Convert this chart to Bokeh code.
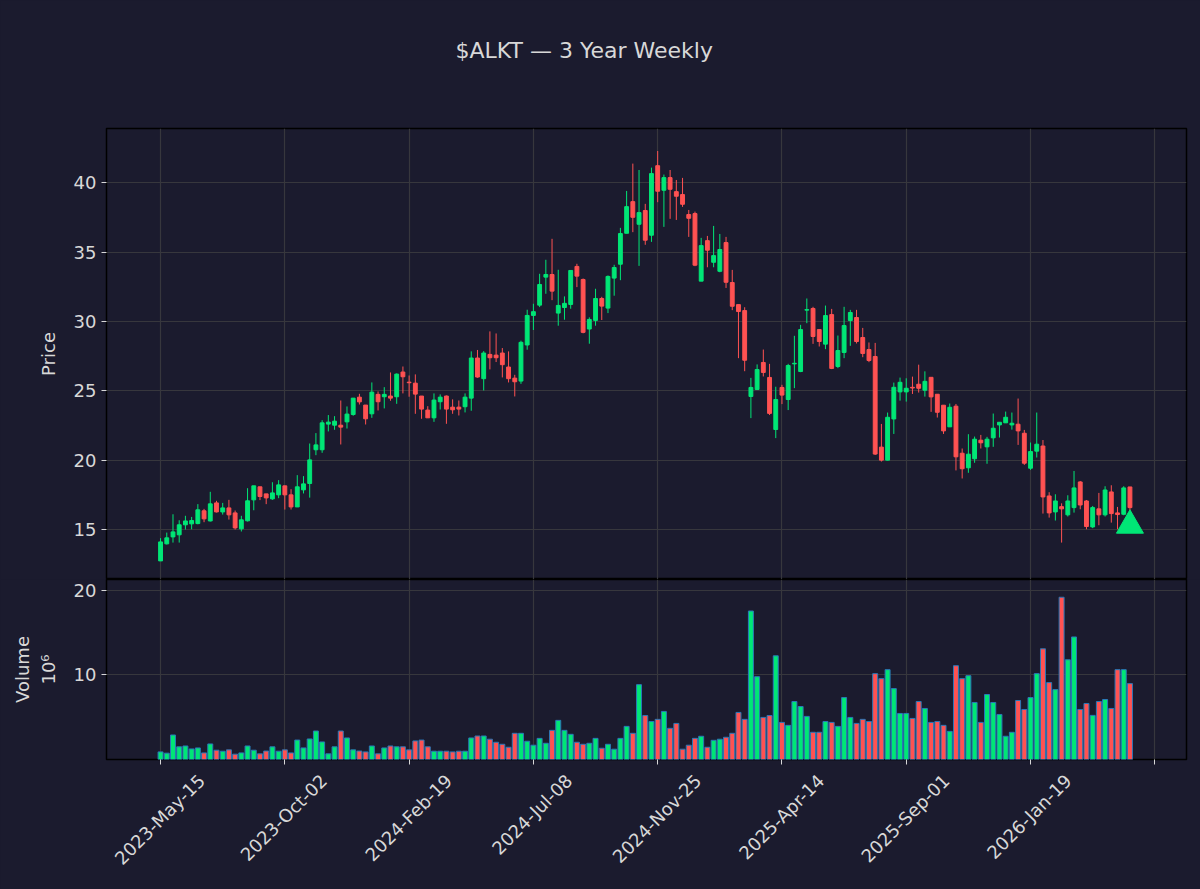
import pandas as pd
from bokeh.plotting import figure
from bokeh.layouts import column
from bokeh.models import ColumnDataSource, FixedTicker, Range1d, LinearAxis, Title
from bokeh.embed import file_html
from bokeh.resources import INLINE

# ---------------- data ----------------
start_date = "2023-05-15"
opens = [12.74, 13.97, 14.47, 14.62, 15.34, 15.41, 15.43, 16.35, 15.62, 16.92,
         16.27, 16.56, 16.20, 15.05, 15.63, 17.14, 18.08, 17.57, 17.21, 17.50,
         18.15, 17.50, 16.63, 17.86, 18.32, 20.75, 20.75, 22.60, 22.52, 22.52,
         22.76, 23.29, 24.54, 23.97, 23.34, 24.74, 24.57, 24.62, 24.57, 26.35,
         25.62, 25.55, 24.62, 23.61, 23.05, 24.21, 24.62, 23.82, 23.82, 23.85,
         24.47, 27.36, 25.87, 27.62, 27.57, 27.72, 26.71, 25.91, 25.70, 28.30,
         30.43, 31.17, 33.19, 33.38, 30.60, 31.00, 31.22, 33.96, 33.02, 29.45,
         30.07, 31.65, 30.96, 33.12, 34.12, 36.35, 38.63, 37.00, 37.99, 36.21,
         41.22, 39.45, 40.36, 39.35, 39.14, 37.70, 37.77, 32.90, 35.82, 34.26,
         33.61, 35.68, 32.80, 31.21, 30.78, 24.59, 25.09, 27.04, 25.96, 22.21,
         25.24, 24.37, 26.94, 26.39, 30.81, 30.93, 29.41, 28.36, 30.49, 26.75,
         27.76, 30.06, 30.28, 28.84, 27.97, 27.47, 20.94, 20.00, 22.97, 24.92,
         24.92, 25.25, 25.47, 25.04, 25.97, 24.75, 23.96, 22.40, 23.89, 20.50,
         19.45, 20.10, 21.44, 20.96, 21.61, 22.54, 22.69, 22.54, 22.59, 21.94,
         19.42, 20.65, 21.02, 17.42, 16.27, 16.65, 16.06, 16.58, 18.43, 17.06,
         15.19, 16.49, 16.06, 17.71, 16.20, 16.10, 18.07]
highs = [14.38, 14.78, 16.10, 15.67, 15.99, 15.91, 16.83, 16.49, 17.72, 17.07,
         16.92, 17.14, 16.37, 15.99, 17.98, 18.15, 18.08, 17.57, 18.41, 18.56,
         18.15, 17.91, 18.92, 18.85, 21.20, 21.95, 22.88, 23.25, 23.17, 24.30,
         23.87, 24.47, 24.78, 23.97, 25.60, 24.95, 25.26, 26.32, 26.25, 26.75,
         26.10, 26.18, 24.62, 23.89, 24.81, 24.74, 24.66, 24.38, 24.30, 24.81,
         27.84, 27.94, 27.86, 29.28, 29.13, 28.08, 27.84, 26.15, 28.61, 30.84,
         31.27, 33.43, 34.44, 35.95, 33.72, 31.80, 33.67, 34.15, 33.09, 30.29,
         32.35, 31.77, 33.31, 34.08, 36.74, 39.40, 41.37, 40.91, 38.47, 41.08,
         42.28, 40.58, 40.91, 40.19, 40.34, 38.03, 37.91, 36.02, 36.16, 36.88,
         36.30, 36.09, 33.71, 31.21, 31.02, 25.93, 26.90, 27.97, 26.94, 25.29,
         25.43, 26.94, 28.96, 29.75, 31.65, 31.05, 29.41, 31.14, 30.90, 28.98,
         31.05, 30.83, 30.83, 29.53, 28.48, 28.45, 22.61, 23.43, 25.59, 25.95,
         25.90, 26.02, 26.88, 26.40, 25.97, 24.75, 23.96, 24.08, 24.05, 20.84,
         21.87, 21.70, 21.82, 21.68, 23.36, 22.73, 23.50, 23.43, 24.44, 22.18,
         21.27, 23.43, 21.45, 17.69, 17.54, 16.89, 17.47, 19.22, 18.50, 17.13,
         16.70, 17.64, 18.12, 18.19, 16.63, 18.12, 18.07]
lows = [12.74, 13.92, 14.06, 14.06, 15.00, 15.02, 15.38, 15.53, 15.58, 16.23,
        16.08, 15.72, 15.00, 14.86, 15.58, 16.39, 17.12, 16.83, 17.14, 17.26,
        16.44, 16.44, 16.63, 17.60, 17.30, 20.36, 20.53, 22.07, 22.19, 21.13,
        22.28, 23.20, 24.01, 22.57, 23.05, 23.58, 23.73, 24.28, 24.06, 24.81,
        24.57, 23.34, 22.98, 23.05, 22.76, 23.65, 22.62, 23.34, 23.22, 23.44,
        23.56, 25.94, 25.02, 26.54, 27.07, 25.96, 25.60, 24.59, 25.50, 27.96,
        29.38, 31.03, 31.99, 31.53, 29.69, 30.12, 30.91, 32.47, 29.14, 28.39,
        29.69, 30.10, 30.60, 31.85, 32.97, 36.35, 36.43, 34.00, 35.52, 35.73,
        38.59, 36.81, 37.39, 37.31, 38.25, 36.09, 33.98, 32.90, 33.90, 33.90,
        33.54, 32.41, 30.81, 27.35, 26.41, 23.03, 25.09, 26.03, 23.25, 21.59,
        24.04, 23.61, 25.19, 26.34, 29.87, 28.38, 28.19, 28.00, 26.56, 26.63,
        27.35, 28.24, 28.41, 27.42, 27.06, 20.37, 19.90, 19.98, 21.89, 24.29,
        24.22, 24.77, 24.87, 24.58, 23.48, 23.07, 21.89, 22.40, 19.26, 18.68,
        19.09, 19.81, 20.84, 19.74, 20.96, 21.63, 22.69, 22.20, 21.10, 19.66,
        19.30, 20.19, 16.15, 15.86, 15.65, 14.06, 15.94, 16.22, 16.46, 15.02,
        15.10, 15.31, 15.94, 15.50, 15.02, 16.03, 16.10]
closes = [14.11, 14.40, 14.83, 15.34, 15.62, 15.65, 16.42, 15.77, 16.85, 16.27,
          16.56, 16.06, 15.12, 15.70, 17.07, 18.15, 17.38, 17.28, 17.64, 18.22,
          17.50, 16.63, 18.08, 18.29, 20.02, 21.10, 22.69, 22.74, 22.81, 22.38,
          23.32, 24.47, 24.20, 22.98, 24.90, 24.21, 24.74, 24.47, 26.20, 26.01,
          25.58, 24.76, 23.68, 23.05, 24.33, 24.54, 23.68, 23.63, 23.68, 24.54,
          27.36, 25.99, 27.72, 27.38, 27.38, 26.88, 25.87, 25.65, 28.49, 30.43,
          30.70, 32.66, 33.38, 32.18, 31.15, 31.30, 33.67, 33.26, 29.21, 30.14,
          31.65, 31.10, 33.24, 33.88, 36.33, 38.27, 37.50, 37.84, 35.85, 40.65,
          39.38, 40.36, 39.52, 39.02, 38.44, 37.43, 34.05, 35.46, 35.13, 34.74,
          35.18, 32.82, 31.09, 30.71, 27.20, 25.24, 26.53, 26.32, 23.37, 24.37,
          24.69, 26.82, 26.98, 29.41, 30.85, 28.91, 28.55, 30.42, 26.61, 27.90,
          29.70, 30.64, 28.55, 27.69, 27.18, 20.44, 20.00, 23.09, 25.25, 25.61,
          25.18, 25.20, 25.18, 25.68, 24.56, 23.45, 22.11, 23.81, 20.24, 19.38,
          20.43, 21.51, 21.25, 21.51, 22.30, 22.73, 23.09, 22.66, 22.11, 19.78,
          20.62, 21.15, 17.35, 16.20, 17.06, 16.49, 17.06, 18.00, 16.77, 15.22,
          16.58, 16.06, 17.85, 16.15, 16.08, 18.00, 16.58]
volumes_m = [0.90, 0.75, 2.90, 1.50, 1.60, 1.25, 1.37, 0.78, 1.84, 1.10,
             0.98, 1.14, 0.63, 0.78, 1.60, 1.10, 0.67, 1.00, 1.50, 0.98,
             1.14, 0.78, 2.30, 1.37, 2.43, 3.37, 2.08, 0.67, 1.50, 3.37,
             2.55, 1.14, 1.00, 0.90, 1.60, 0.67, 1.37, 1.60, 1.50, 1.50,
             1.14, 2.20, 2.30, 1.50, 0.98, 0.98, 0.98, 0.90, 0.98, 0.98,
             2.55, 2.78, 2.78, 2.40, 2.04, 1.80, 1.45, 3.10, 3.10, 2.16,
             1.69, 2.50, 1.92, 3.45, 4.63, 3.45, 2.98, 2.04, 1.80, 1.92,
             2.50, 1.33, 1.80, 1.22, 2.50, 3.92, 3.10, 8.86, 5.20, 4.50,
             4.75, 5.69, 3.69, 4.27, 1.22, 1.69, 2.50, 2.75, 1.45, 2.27,
             2.40, 2.63, 3.10, 5.57, 4.75, 17.57, 9.80, 4.98, 5.20, 12.27,
             4.39, 4.04, 6.86, 6.27, 5.10, 3.22, 3.22, 4.50, 4.39, 3.92,
             7.33, 4.98, 4.27, 4.75, 4.50, 10.16, 9.57, 10.63, 8.39, 5.45,
             5.45, 4.86, 6.86, 6.04, 4.39, 4.50, 4.04, 3.33, 11.10, 9.57,
             9.92, 6.75, 4.39, 7.69, 6.75, 5.33, 2.75, 3.22, 6.98, 5.92,
             7.33, 10.16, 13.10, 9.10, 8.27, 19.20, 11.80, 14.50, 5.92, 6.63,
             5.22, 6.86, 7.10, 6.04, 10.63, 10.63, 8.98]
signal_price = [15.3]          # green triangle marker on the last week
tick_weeks = [0, 20, 40, 60, 80, 100, 120, 140, 160]
tick_labels = ["2023-May-15", "2023-Oct-02", "2024-Feb-19", "2024-Jul-08",
               "2024-Nov-25", "2025-Apr-14", "2025-Sep-01", "2026-Jan-19", ""]
price_ticks = [15, 20, 25, 30, 35, 40]
volume_ticks = [10, 20]

# ---------------- styling ----------------
BG = "#1b1b2e"
GRID = "#37373d"
UP = "#00e676"
DOWN = "#ff5252"
EDGE = "#2a78b8"
TXT = "#d8d8d8"
FONT = "DejaVu Sans"
TICK_FS = 18
PX_PER_WEEK = 6.214

n = len(closes)
idx = list(range(n))
dates = pd.date_range(start_date, periods=n, freq="7D")
colors = [UP if c >= o else DOWN for o, c in zip(opens, closes)]
src = ColumnDataSource(dict(
    x=idx, date=dates, open=opens, high=highs, low=lows, close=closes,
    top=[max(o, c) for o, c in zip(opens, closes)],
    bottom=[min(o, c) for o, c in zip(opens, closes)],
    vol=volumes_m, color=colors))

x_range = Range1d(-8.7, 165.1)


def style(p, yticks):
    p.background_fill_color = BG
    p.border_fill_color = BG
    p.outline_line_color = "black"
    p.outline_line_width = 1.5
    p.grid.grid_line_color = GRID
    p.grid.grid_line_width = 1.2
    p.xgrid.ticker = FixedTicker(ticks=tick_weeks)
    p.ygrid.ticker = FixedTicker(ticks=yticks)
    p.yaxis.ticker = FixedTicker(ticks=yticks)
    p.xaxis.ticker = FixedTicker(ticks=tick_weeks)
    for ax in p.axis:
        ax.axis_line_color = None
        ax.major_tick_line_color = TXT
        ax.major_tick_out = 5
        ax.major_tick_in = 0
        ax.minor_tick_line_color = None
        ax.major_label_text_color = TXT
        ax.major_label_text_font = FONT
        ax.major_label_text_font_size = f"{TICK_FS}px"
        ax.axis_label_text_color = TXT
        ax.axis_label_text_font = FONT
        ax.axis_label_text_font_size = "18px"
        ax.axis_label_text_font_style = "normal"


# ---------------- price panel ----------------
p = figure(width=1200, height=579, x_range=x_range, y_range=Range1d(11.4, 43.9),
           output_backend="svg", toolbar_location=None,
           min_border_left=106, min_border_right=14, min_border_top=128,
           min_border_bottom=0)
style(p, price_ticks)
p.xaxis.visible = False
p.yaxis.axis_label = "Price"
p.yaxis.axis_label_standoff = 12

# empty spacer between the frame and the title (title sits higher, as in the reference)
spacer = Title(text=" ", text_font_size="44px", text_color=BG, standoff=10)
p.add_layout(spacer, "above")

p.title.text = "$ALKT \u2014 3 Year Weekly"
p.title.text_color = TXT
p.title.text_font = FONT
p.title.text_font_size = "22px"
p.title.text_font_style = "normal"
p.title.align = "left"
p.title.offset = 349

p.segment(x0="x", y0="low", x1="x", y1="high", color="color", line_width=1, source=src)
p.vbar(x="x", top="top", bottom="bottom", width=0.62, fill_color="color",
       line_color="color", line_width=1, source=src)
p.scatter(x=[idx[-1]], y=signal_price, marker="triangle", size=27,
          fill_color=UP, line_color=UP)

# ---------------- volume panel ----------------
v = figure(width=1200, height=310, x_range=x_range, y_range=Range1d(0, 21.3),
           output_backend="svg", toolbar_location=None,
           min_border_left=106, min_border_right=14, min_border_top=0,
           min_border_bottom=130)
style(v, volume_ticks)
v.vbar(x="x", top="vol", bottom=0, width=0.8, fill_color="color",
       line_color=EDGE, line_width=1, source=src)
v.yaxis.axis_label = "Volume\n10\u2076"
v.yaxis.axis_label_standoff = 12

# axis 1: tick marks only at the week positions
v.xaxis.major_label_overrides = {t: "" for t in tick_weeks}
v.xaxis.major_label_text_font_size = "1px"
v.xaxis.major_label_standoff = 0

# axis 2: rotated labels, centred under each tick (matplotlib style)
CW = {"-": .361, "M": .863, "a": .613, "y": .592, "O": .787, "c": .55, "t": .392,
      "F": .575, "e": .615, "b": .635, "J": .295, "u": .634, "l": .278, "N": .748,
      "o": .612, "v": .592, "A": .684, "p": .635, "r": .411, "S": .635, "n": .634}


def text_len(s):
    return sum(CW.get(ch, .636) for ch in s) * TICK_FS


lab_ticks, lab_over = [], {}
for t, lab in zip(tick_weeks, tick_labels):
    if not lab:
        continue
    shift = (0.354 * text_len(lab) - 1.0) / PX_PER_WEEK
    pos = round(t + shift, 3)
    lab_ticks.append(pos)
    lab_over[pos] = lab

lab_ax = LinearAxis(ticker=FixedTicker(ticks=lab_ticks), major_label_overrides=lab_over)
lab_ax.axis_line_color = None
lab_ax.major_tick_line_color = None
lab_ax.major_tick_out = 0
lab_ax.major_tick_in = 0
lab_ax.minor_tick_line_color = None
lab_ax.major_label_text_color = TXT
lab_ax.major_label_text_font = FONT
lab_ax.major_label_text_font_size = f"{TICK_FS}px"
lab_ax.major_label_orientation = 0.785398
lab_ax.major_label_standoff = 13
v.add_layout(lab_ax, "below")

layout = column(p, v)
layout.styles = {"background-color": BG}
open("out.html", "w").write(file_html(layout, INLINE))
